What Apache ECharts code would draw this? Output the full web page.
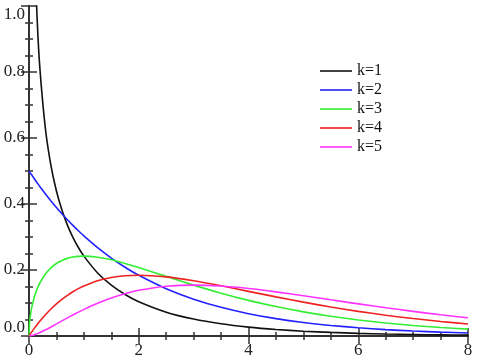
<!DOCTYPE html>
<html><head><meta charset="utf-8">
<script src="https://cdn.jsdelivr.net/npm/echarts@6/dist/echarts.min.js"></script>
<style>html,body{margin:0;padding:0;background:#fff}#c{width:480px;height:360px}</style>
</head><body><div id="c"></div>
<script>
var xs = [0, 0.01, 0.02, 0.05, 0.1, 0.15, 0.2, 0.3, 0.4, 0.5, 0.6, 0.7, 0.8, 0.9, 1.0, 1.25, 1.5, 1.75, 2, 2.5, 3, 3.5, 4, 4.5, 5, 5.5, 6, 6.5, 7, 7.5, 8];
var k1 = [null, 3.97, 2.79, 1.740, 1.200, 0.9556, 0.8072, 0.6269, 0.5164, 0.4394, 0.3815, 0.3360, 0.2990, 0.2681, 0.2420, 0.1910, 0.1539, 0.1257, 0.1038, 0.0723, 0.0514, 0.0371, 0.0270, 0.0198, 0.0146, 0.0109, 0.0081, 0.0061, 0.0046, 0.0034, 0.0026];
var k2 = [0.5, 0.4975, 0.4950, 0.4877, 0.4756, 0.4639, 0.4524, 0.4304, 0.4094, 0.3894, 0.3704, 0.3523, 0.3352, 0.3188, 0.3033, 0.2676, 0.2362, 0.2084, 0.1839, 0.1433, 0.1116, 0.0869, 0.0677, 0.0527, 0.0410, 0.0320, 0.0249, 0.0194, 0.0151, 0.0118, 0.0092];
var k3 = [0, 0.0397, 0.0559, 0.0870, 0.1200, 0.1433, 0.1614, 0.1881, 0.2066, 0.2197, 0.2289, 0.2352, 0.2392, 0.2413, 0.2420, 0.2387, 0.2309, 0.2200, 0.2076, 0.1807, 0.1542, 0.1298, 0.1080, 0.0892, 0.0732, 0.0598, 0.0487, 0.0395, 0.0320, 0.0257, 0.0207];
var k4 = [0, 0.0025, 0.0050, 0.0122, 0.0238, 0.0348, 0.0452, 0.0646, 0.0819, 0.0974, 0.1111, 0.1233, 0.1341, 0.1435, 0.1516, 0.1673, 0.1771, 0.1824, 0.1839, 0.1791, 0.1674, 0.1521, 0.1353, 0.1186, 0.1026, 0.0879, 0.0747, 0.0630, 0.0528, 0.0441, 0.0366];
var k5 = [0, 0.0001, 0.0004, 0.0015, 0.0040, 0.0072, 0.0108, 0.0188, 0.0275, 0.0366, 0.0458, 0.0549, 0.0638, 0.0724, 0.0807, 0.0995, 0.1155, 0.1283, 0.1384, 0.1506, 0.1542, 0.1514, 0.1440, 0.1338, 0.1220, 0.1096, 0.0974, 0.0856, 0.0747, 0.0643, 0.0552];
var names = ['k=1', 'k=2', 'k=3', 'k=4', 'k=5'];
var colors = ['#111111', '#2222ff', '#33ee33', '#ee2222', '#ff33ff'];
var allY = [k1, k2, k3, k4, k5];

function pairs(ys){ var out=[]; for (var i=0;i<xs.length;i++){ if(ys[i]!==null) out.push([xs[i], ys[i]]); } return out; }

var axLine = {show:true, lineStyle:{color:'#333', width:2}};
var font = 'Liberation Serif';
var tick = {show:true, inside:true, length:8, lineStyle:{color:'#333', width:1.5}};
var minor = {show:true, splitNumber:4, length:4, lineStyle:{color:'#333', width:1.5}};
var chart = echarts.init(document.getElementById('c'), null, {renderer:'canvas'});
chart.setOption({
  animation:false,
  grid:{left:29, right:12, top:6, bottom:24},
  legend:{
    data:names, orient:'vertical', left:320, top:63, padding:0, itemWidth:32, itemHeight:10, itemGap:3,
    textStyle:{fontFamily:font, fontSize:16, color:'#111'}, icon:'path://M0,0L32,0L32,1.6L0,1.6Z'
  },
  xAxis:[
    {type:'value', min:0, max:8, interval:2, position:'bottom',
     axisLine:axLine, splitLine:{show:false}, axisTick:tick, minorTick:minor,
     axisLabel:{fontFamily:font, fontSize:17, color:'#222', margin:6}},
    {type:'value', min:0, max:8, interval:2, position:'top',
     axisLine:axLine, splitLine:{show:false}, axisTick:tick, minorTick:minor,
     axisLabel:{show:false}}
  ],
  yAxis:[
    {type:'value', min:0, max:1, interval:0.2, position:'left',
     axisLine:axLine, splitLine:{show:false}, axisTick:tick, minorTick:minor,
     axisLabel:{fontFamily:font, fontSize:17, color:'#222', margin:4,
       verticalAlignMinLabel:'bottom', verticalAlignMaxLabel:'top',
       formatter:function(v){return v.toFixed(1);}}},
    {type:'value', min:0, max:1, interval:0.2, position:'right',
     axisLine:axLine, splitLine:{show:false}, axisTick:tick, minorTick:minor,
     axisLabel:{show:false}}
  ],
  series: names.map(function(n,i){
    return {name:n, type:'line', data:pairs(allY[i]), smooth:0.25, symbol:'none', clip:true,
      xAxisIndex:0, yAxisIndex:0, color:colors[i], lineStyle:{width:1.6, color:colors[i]}};
  })
});
</script></body></html>
